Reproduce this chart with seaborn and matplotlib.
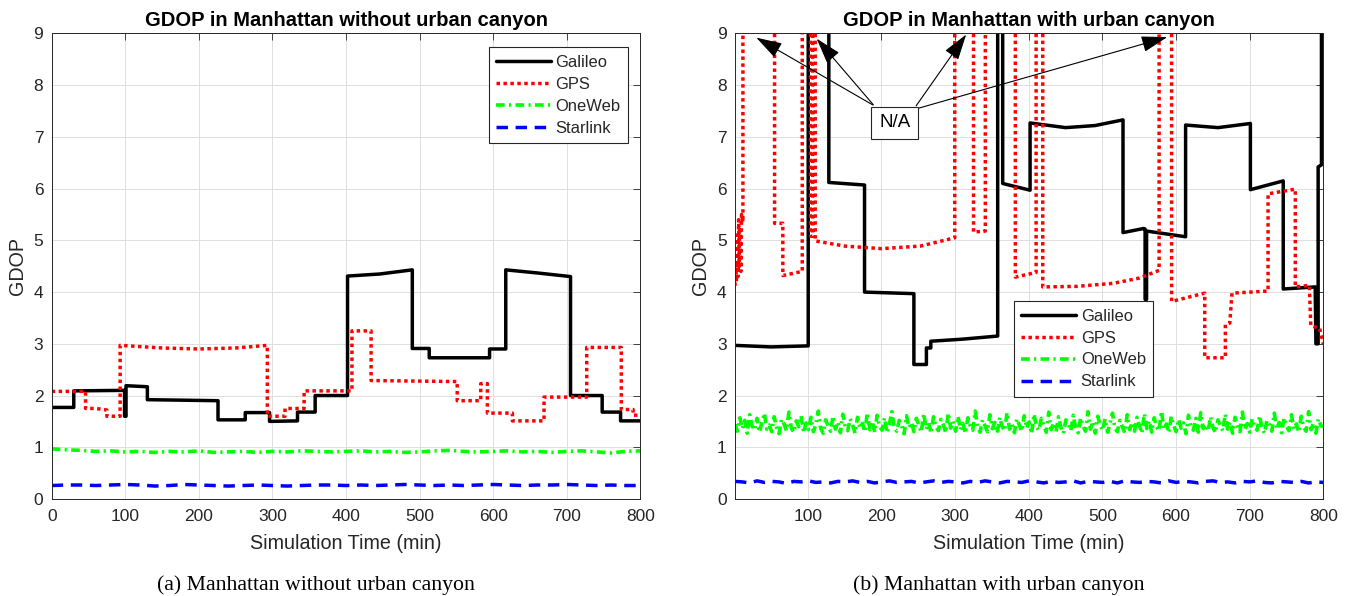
import numpy as np
import matplotlib
matplotlib.use("Agg")
import matplotlib.pyplot as plt
import seaborn as sns

# ---------------- data ----------------
series_names = ["Galileo", "GPS", "OneWeb", "Starlink"]

# (a) without urban canyon
gal_a_t = [0, 30, 30, 99, 99, 101, 101, 130, 130, 226, 226, 263, 263, 296, 296, 334, 334, 358, 358, 402,
           402, 446, 490, 490, 513, 513, 595, 595, 617, 617, 660, 705, 705, 748, 748, 773, 773, 800]
gal_a_v = [1.77, 1.77, 2.09, 2.10, 1.60, 1.60, 2.19, 2.17, 1.92, 1.90, 1.53, 1.53, 1.67, 1.67, 1.50, 1.51, 1.68, 1.68, 2.00, 2.00,
           4.31, 4.35, 4.43, 2.91, 2.91, 2.73, 2.73, 2.90, 2.90, 4.43, 4.37, 4.30, 2.00, 2.00, 1.68, 1.68, 1.51, 1.51]

gps_a_t = [0, 46, 46, 60, 75, 75, 93, 93, 150, 200, 250, 293, 293, 317, 317, 343, 343, 408, 408, 434,
           434, 551, 551, 583, 583, 592, 592, 626, 626, 669, 669, 727, 727, 774, 774, 790, 790, 800]
gps_a_v = [2.08, 2.08, 1.75, 1.75, 1.72, 1.60, 1.60, 2.97, 2.92, 2.90, 2.92, 2.97, 1.60, 1.60, 1.75, 1.75, 2.09, 2.09, 3.25, 3.25,
           2.29, 2.27, 1.90, 1.90, 2.23, 2.23, 1.66, 1.66, 1.51, 1.51, 1.97, 1.97, 2.93, 2.93, 1.73, 1.73, 1.62, 1.62]

oneweb_a_v = [0.97, 0.95, 0.94, 0.92, 0.93, 0.91, 0.92, 0.90, 0.92, 0.91, 0.93, 0.90, 0.91, 0.92, 0.90, 0.92, 0.91, 0.93, 0.92, 0.91,
              0.92, 0.93, 0.91, 0.92, 0.90, 0.91, 0.93, 0.94, 0.92, 0.91, 0.92, 0.93, 0.91, 0.92, 0.90, 0.92, 0.93, 0.91, 0.89, 0.92, 0.93]
starlink_a_v = [0.26, 0.27, 0.27, 0.26, 0.27, 0.28, 0.27, 0.25, 0.26, 0.28, 0.27, 0.26, 0.25, 0.26, 0.27, 0.26, 0.25, 0.26, 0.27, 0.27,
                0.26, 0.27, 0.26, 0.27, 0.28, 0.27, 0.26, 0.27, 0.26, 0.27, 0.28, 0.27, 0.26, 0.27, 0.27, 0.28, 0.27, 0.26, 0.27, 0.26, 0.26]

# (b) with urban canyon (30 = not available, beyond the top of the axis)
gal_b_t = [1, 50, 100.5, 100.5, 128.5, 128.5, 177, 177, 244, 244, 261, 261, 267, 267, 310, 357.8, 357.8, 364.6, 364.6, 401.8,
           401.8, 450, 490, 528, 528, 556, 558, 558, 560, 560, 613, 613, 657, 701, 701, 745.6, 745.6, 789, 790, 793,
           793, 797.5, 797.5, 800]
gal_b_v = [2.97, 2.94, 2.96, 30, 30, 6.12, 6.07, 4.00, 3.97, 2.60, 2.60, 2.92, 2.92, 3.05, 3.09, 3.15, 30, 30, 6.10, 5.97,
           7.27, 7.18, 7.22, 7.33, 5.15, 5.23, 5.22, 3.86, 3.86, 5.18, 5.07, 7.23, 7.18, 7.26, 5.98, 6.15, 4.06, 4.10, 3.00, 3.00,
           6.42, 6.46, 30, 30]

gps_b_t = [1, 2, 3, 4, 5, 6, 7, 8, 9, 10, 11.8, 11.8, 54.8, 54.8, 66, 66, 92.4, 92.4, 103.7, 103.7,
           106.5, 106.5, 110, 110, 150, 200, 253, 299.5, 299.5, 325, 325, 341, 341, 381.8, 381.8, 410, 410, 419, 419, 465,
           515, 550, 577, 577, 594, 594, 639, 639, 667, 667, 673, 676, 725, 725, 762, 762, 781, 783, 795, 800]
gps_b_v = [4.12, 4.6, 4.2, 5.1, 4.3, 5.4, 4.5, 5.2, 4.4, 5.5, 5.35, 30, 30, 5.33, 5.33, 4.32, 4.40, 30, 30, 5.08,
           5.08, 30, 30, 4.99, 4.89, 4.84, 4.89, 5.05, 30, 30, 5.16, 5.18, 30, 30, 4.29, 4.38, 30, 30, 4.10, 4.11,
           4.17, 4.27, 4.42, 30, 30, 3.82, 3.98, 2.73, 2.73, 3.37, 3.40, 3.98, 4.02, 5.90, 5.99, 4.10, 4.13, 3.35, 3.30, 3.00]

oneweb_b_v = [1.44, 1.31, 1.57, 1.36, 1.52, 1.27, 1.63, 1.41, 1.33, 1.56, 1.29, 1.48, 1.66, 1.35, 1.43, 1.30, 1.59, 1.38, 1.26, 1.54,
              1.45, 1.32, 1.68, 1.37, 1.29, 1.51, 1.40, 1.61, 1.28, 1.47, 1.34, 1.58, 1.30, 1.44, 1.70, 1.36, 1.27, 1.53, 1.42, 1.31,
              1.60, 1.35, 1.49, 1.28, 1.64, 1.39, 1.32, 1.55, 1.43, 1.27, 1.58, 1.37, 1.46, 1.30, 1.67, 1.34, 1.50, 1.29, 1.62, 1.40,
              1.33, 1.57, 1.28, 1.45, 1.69, 1.36, 1.31, 1.52, 1.41, 1.26, 1.61, 1.38, 1.48, 1.30, 1.56, 1.43, 1.29, 1.65, 1.35, 1.47,
              1.27, 1.59, 1.39, 1.32, 1.54, 1.44, 1.28, 1.66, 1.37, 1.50, 1.31, 1.60, 1.34, 1.46, 1.27, 1.57, 1.41, 1.33, 1.70, 1.38,
              1.29, 1.53, 1.42, 1.30, 1.63, 1.36, 1.48, 1.27, 1.58, 1.40, 1.32, 1.67, 1.35, 1.45, 1.28, 1.55, 1.43, 1.31, 1.61, 1.37,
              1.49, 1.26, 1.64, 1.39, 1.33, 1.56, 1.42, 1.29, 1.68, 1.34, 1.47, 1.30, 1.59, 1.38, 1.27, 1.53, 1.44, 1.32, 1.62, 1.36,
              1.28, 1.57, 1.41, 1.31, 1.69, 1.35, 1.50, 1.27, 1.60, 1.43, 1.33, 1.55, 1.29, 1.46, 1.66, 1.37, 1.30, 1.52, 1.40, 1.28,
              1.63, 1.34, 1.48, 1.31, 1.58, 1.42, 1.27, 1.65, 1.36, 1.51, 1.29, 1.57, 1.39, 1.32, 1.70, 1.35, 1.45, 1.28, 1.60, 1.41,
              1.30, 1.54, 1.37, 1.47, 1.26, 1.62, 1.40, 1.33, 1.56, 1.29, 1.67, 1.36, 1.44, 1.31, 1.59, 1.38, 1.28, 1.53, 1.43, 1.32,
              1.64, 1.35, 1.49, 1.27, 1.58, 1.41, 1.30, 1.68, 1.34, 1.46, 1.29, 1.55, 1.39, 1.33, 1.61, 1.37, 1.27, 1.52, 1.44, 1.31,
              1.66, 1.36, 1.48, 1.28, 1.57, 1.40, 1.32, 1.63, 1.35, 1.45, 1.29, 1.60, 1.38, 1.31, 1.69, 1.34, 1.47, 1.27, 1.55, 1.42,
              1.39]
starlink_b_v = [0.34, 0.33, 0.31, 0.35, 0.32, 0.34, 0.33, 0.30, 0.34, 0.33, 0.35, 0.32, 0.33, 0.31, 0.34, 0.33, 0.35, 0.32, 0.34, 0.31,
                0.33, 0.35, 0.32, 0.33, 0.34, 0.31, 0.33, 0.35, 0.32, 0.34, 0.33, 0.31, 0.34, 0.32, 0.35, 0.33, 0.31, 0.34, 0.33, 0.32,
                0.35, 0.33, 0.31, 0.34, 0.32, 0.33, 0.35, 0.31, 0.34, 0.33, 0.32, 0.34, 0.31, 0.35, 0.33, 0.32, 0.34, 0.33, 0.31, 0.35,
                0.32, 0.34, 0.33, 0.31, 0.34, 0.35, 0.32, 0.33, 0.31, 0.34, 0.33, 0.35, 0.32, 0.31, 0.34, 0.33, 0.32, 0.34, 0.31, 0.33,
                0.32]

oneweb_a_t = np.linspace(0, 800, len(oneweb_a_v))
starlink_a_t = np.linspace(0, 800, len(starlink_a_v))
oneweb_b_t = np.linspace(1, 800, len(oneweb_b_v))
starlink_b_t = np.linspace(1, 800, len(starlink_b_v))

titles = ["GDOP in Manhattan without urban canyon", "GDOP in Manhattan with urban canyon"]
captions = ["(a) Manhattan without urban canyon", "(b) Manhattan with urban canyon"]

na_tips = [(30, 8.92), (112, 8.90), (315, 8.98), (588, 8.93)]
na_tails = [(188, 7.62), (189, 7.62), (247, 7.60), (249, 7.55)]

# ---------------- style ----------------
sns.set_theme(style="white")
plt.rcParams['font.family'] = ['Liberation Sans', 'DejaVu Sans']

AXC = '#262626'
styles = {
    "Galileo": dict(color='black', linestyle='-', linewidth=2.5),
    "GPS": dict(color='#ff0000', linestyle=(0, (1, 1)), linewidth=2.5),
    "OneWeb": dict(color='#00ff00', linestyle=(0, (2.4, 1.2, 0.6, 1.2)), linewidth=2.6),
    "Starlink": dict(color='#0000ff', linestyle=(0, (3.3, 2.2)), linewidth=2.5),
}

fig = plt.figure(figsize=(13.55, 5.96), dpi=100)
axL = fig.add_axes([0.03815, 0.1628, 0.4345, 0.781])
axR = fig.add_axes([0.5424, 0.1628, 0.4342, 0.781])

data = [
    {"Galileo": (gal_a_t, gal_a_v), "GPS": (gps_a_t, gps_a_v),
     "OneWeb": (oneweb_a_t, oneweb_a_v), "Starlink": (starlink_a_t, starlink_a_v)},
    {"Galileo": (gal_b_t, gal_b_v), "GPS": (gps_b_t, gps_b_v),
     "OneWeb": (oneweb_b_t, oneweb_b_v), "Starlink": (starlink_b_t, starlink_b_v)},
]

for i, ax in enumerate([axL, axR]):
    for name in series_names:
        t, v = data[i][name]
        sns.lineplot(x=list(t), y=list(v), ax=ax, estimator=None, sort=False,
                     label=name, **styles[name])
    ax.set_ylim(0, 9)
    ax.set_yticks(range(0, 10))
    if i == 0:
        ax.set_xlim(0, 800)
        ax.set_xticks(range(0, 801, 100))
    else:
        ax.set_xlim(1, 800)
        ax.set_xticks(range(100, 801, 100))
    ax.grid(True, color='#dedede', linewidth=0.7)
    ax.set_axisbelow(True)
    for sp in ax.spines.values():
        sp.set_color(AXC)
        sp.set_linewidth(0.7)
    ax.tick_params(direction='in', length=5, width=0.6, top=True, right=True,
                   labelsize=12.5, labelcolor=AXC, color=AXC)
    ax.tick_params(axis='y', pad=6)
    ax.tick_params(axis='x', pad=7.5)
    ax.set_xlabel("Simulation Time (min)", fontsize=14.2, color=AXC, labelpad=7)
    ax.set_ylabel("GDOP", fontsize=14.2, color=AXC, labelpad=5)
    ax.set_title(titles[i], fontsize=14.5, fontweight='bold', color='black', pad=5.5)

for ax, loc, anchor in ((axL, 'upper right', (0.979, 0.970)), (axR, 'upper left', (0.474, 0.425))):
    h, l = ax.get_legend_handles_labels()
    lg = ax.legend(h, l, loc=loc, bbox_to_anchor=anchor, fontsize=11.9, handlelength=3.3,
                   handletextpad=0.3, labelspacing=0.42, borderpad=0.45, borderaxespad=0,
                   fancybox=False, framealpha=1, edgecolor=AXC)
    lg.get_frame().set_linewidth(0.8)

# N/A annotation
axR.text(218, 7.27, "N/A", ha='center', va='center', fontsize=13.5, color='black', zorder=6,
         bbox=dict(boxstyle='square,pad=0.42', fc='white', ec=AXC, lw=0.8))
for tail, tip in zip(na_tails, na_tips):
    axR.annotate('', xy=tip, xytext=tail, zorder=5,
                 arrowprops=dict(arrowstyle='-|>,head_length=0.45,head_width=0.14', mutation_scale=36,
                                 color='black', lw=0.8, shrinkA=0, shrinkB=0))

fig.text(0.2335, 0.0105, captions[0], ha='center', va='baseline', fontsize=15.7,
         family=['Liberation Serif', 'DejaVu Serif'], color='black')
fig.text(0.737, 0.0105, captions[1], ha='center', va='baseline', fontsize=15.7,
         family=['Liberation Serif', 'DejaVu Serif'], color='black')

fig.savefig("out.png", dpi=100)
